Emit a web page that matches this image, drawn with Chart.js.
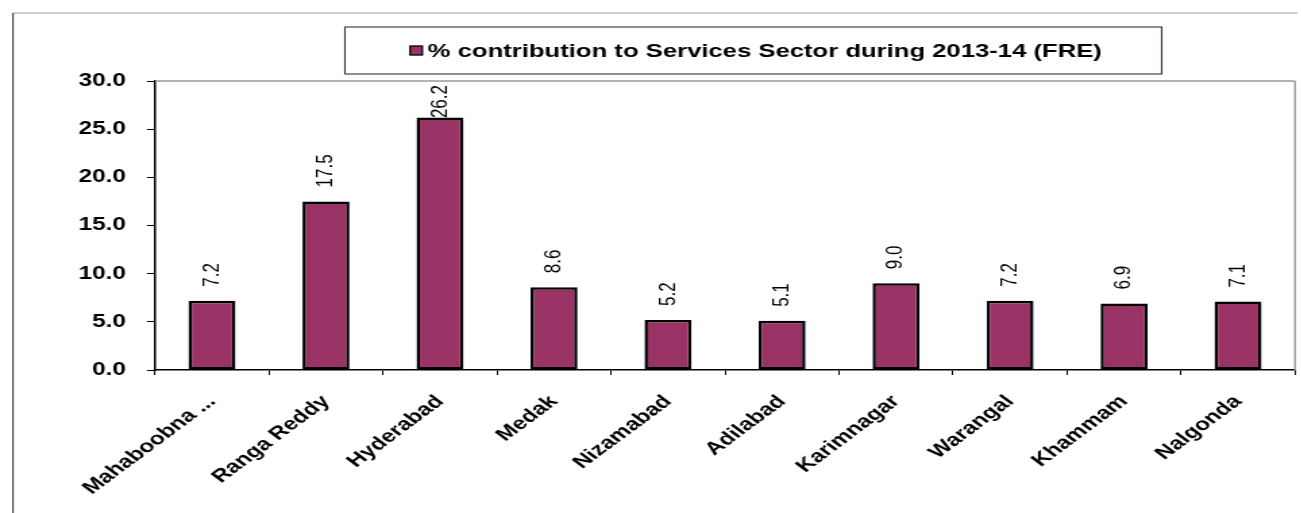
<!DOCTYPE html>
<html>
<head>
<meta charset="utf-8">
<title>Services Sector contribution 2013-14</title>
<script src="https://cdn.jsdelivr.net/npm/chart.js@4.4.1/dist/chart.umd.min.js"></script>
<style>
  html, body { margin: 0; padding: 0; background: #fff; overflow: hidden; }
  /* the sheet was laid out narrow and then widened to the page */
  #wrap { width: 964px; height: 513px; transform: scaleX(1.35); transform-origin: 0 0; }
</style>
</head>
<body>
<div id="wrap"><canvas id="services-chart" width="964" height="513"></canvas></div>
<script>
const districts = ['Mahaboobna ...', 'Ranga Reddy', 'Hyderabad', 'Medak', 'Nizamabad',
                   'Adilabad', 'Karimnagar', 'Warangal', 'Khammam', 'Nalgonda'];
const contribution = [7.2, 17.5, 26.2, 8.6, 5.2, 5.1, 9.0, 7.2, 6.9, 7.1];
const yTicks = [0, 5, 10, 15, 20, 25, 30];
const seriesLabel = '% contribution to Services Sector during 2013-14 (FRE)';

const FONT = '"Liberation Sans", Arial, sans-serif';
const BAR_COLOR = '#993366';

Chart.defaults.font.family = FONT;
Chart.defaults.color = '#000';

// outer sheet edges + plot area frame
const framePlugin = {
    id: 'frame',
    beforeDraw(chart) {
        const ctx = chart.ctx;
        ctx.save();
        ctx.strokeStyle = '#bbbbbb';
        ctx.lineWidth = 1.5;
        ctx.beginPath();
        ctx.moveTo(9.6, 13);
        ctx.lineTo(961, 13);
        ctx.stroke();
        ctx.strokeStyle = '#444';
        ctx.lineWidth = 1.1;
        ctx.beginPath();
        ctx.moveTo(9.6, 13);
        ctx.lineTo(9.6, 513);
        ctx.stroke();
        ctx.restore();
    },
    beforeDatasetsDraw(chart) {
        const {ctx, chartArea} = chart;
        ctx.save();
        ctx.strokeStyle = '#999';
        ctx.lineWidth = 1.5;
        ctx.beginPath();
        ctx.moveTo(chartArea.left, chartArea.top);
        ctx.lineTo(chartArea.right, chartArea.top);
        ctx.stroke();
        ctx.lineWidth = 1.4;
        ctx.beginPath();
        ctx.moveTo(chartArea.right, chartArea.top);
        ctx.lineTo(chartArea.right, chartArea.bottom);
        ctx.stroke();
        ctx.restore();
    }
};

// boxed legend above the plot
const legendBox = {
    id: 'legendBox',
    afterDraw(chart) {
        const ctx = chart.ctx;
        const ds = chart.data.datasets[0];
        const box = {left: 255.5, right: 860.5, top: 27, bottom: 74};
        ctx.save();
        ctx.strokeStyle = '#333';
        ctx.lineWidth = 1.1;
        ctx.strokeRect(box.left, box.top, box.right - box.left, box.bottom - box.top);

        ctx.font = 'bold 19px ' + FONT;
        const tw = ctx.measureText(ds.label).width;
        const sq = 9;
        const total = sq + 4 + tw;
        const x0 = (box.left + box.right) / 2 - total / 2 + 2;
        const cy = (box.top + box.bottom) / 2;
        ctx.fillStyle = ds.backgroundColor;
        ctx.fillRect(x0, cy - sq / 2, sq, sq);
        ctx.strokeStyle = '#000';
        ctx.lineWidth = 1.3;
        ctx.strokeRect(x0, cy - sq / 2, sq, sq);
        ctx.fillStyle = '#000';
        ctx.textBaseline = 'middle';
        ctx.textAlign = 'left';
        ctx.fillText(ds.label, x0 + sq + 4, cy + 1);
        ctx.restore();
    }
};

// vertical value labels over each bar
const valueLabels = {
    id: 'valueLabels',
    afterDatasetsDraw(chart) {
        const {ctx, chartArea} = chart;
        const meta = chart.getDatasetMeta(0);
        ctx.save();
        ctx.font = '17px ' + FONT;
        ctx.fillStyle = '#000';
        ctx.textBaseline = 'middle';
        ctx.textAlign = 'left';
        meta.data.forEach((bar, i) => {
            const text = contribution[i].toFixed(1);
            const w = ctx.measureText(text).width;
            let start = bar.y - 14;
            if (start - w < chartArea.top + 4) start = chartArea.top + 4 + w;
            ctx.save();
            ctx.translate(bar.x, start);
            ctx.rotate(-Math.PI / 2);
            ctx.fillText(text, 0, 0);
            ctx.restore();
        });
        ctx.restore();
    }
};

const ctx = document.getElementById('services-chart').getContext('2d');

new Chart(ctx, {
    type: 'bar',
    data: {
        labels: districts,
        datasets: [{
            label: seriesLabel,
            data: contribution,
            backgroundColor: BAR_COLOR,
            borderColor: '#000',
            borderWidth: 2.5,
            borderSkipped: false,
            barPercentage: 0.412,
            categoryPercentage: 1
        }]
    },
    options: {
        responsive: false,
        animation: false,
        devicePixelRatio: 1,
        layout: { padding: { top: 81, right: 4.7, left: 0, bottom: 0 } },
        plugins: {
            legend: { display: false },
            tooltip: { enabled: false }
        },
        scales: {
            x: {
                offset: true,
                grid: { drawOnChartArea: false, drawTicks: true, tickLength: 5, offset: true, color: '#000', lineWidth: 1 },
                border: { color: '#000', width: 1.5 },
                ticks: {
                    autoSkip: false,
                    minRotation: 45,
                    maxRotation: 45,
                    padding: 16,
                    color: '#000',
                    font: { size: 18, weight: 'bold' }
                },
                afterFit(scale) { scale.height = 143; }
            },
            y: {
                min: 0,
                max: 30,
                afterBuildTicks(scale) {
                    scale.ticks = yTicks.map(v => ({ value: v }));
                },
                grid: { drawOnChartArea: false, drawTicks: true, tickLength: 6, color: '#000', lineWidth: 1 },
                border: { color: '#000', width: 1.5 },
                ticks: {
                    padding: 15.5,
                    color: '#000',
                    font: { size: 18, weight: 'bold' },
                    callback: v => Number(v).toFixed(1)
                },
                afterFit(scale) { scale.width = 114.8; }
            }
        }
    },
    plugins: [framePlugin, legendBox, valueLabels]
});
</script>
</body>
</html>
